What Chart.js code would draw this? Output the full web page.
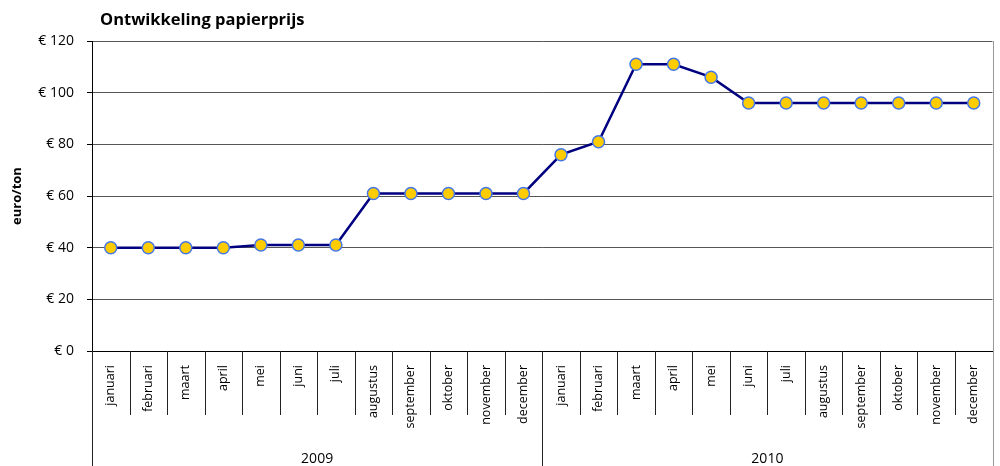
<!DOCTYPE html>
<html>
<head>
<meta charset="utf-8">
<script src="https://cdn.jsdelivr.net/npm/chart.js@4/dist/chart.umd.min.js"></script>
<style>
  html, body { margin: 0; padding: 0; background: #fff; }
  #wrap { width: 1000px; height: 466px; position: relative; }
</style>
</head>
<body>
<div id="wrap"><canvas id="priceChart"></canvas></div>
<script>
const months = ["januari", "februari", "maart", "april", "mei", "juni",
    "juli", "augustus", "september", "oktober", "november", "december"];
const years = ["2009", "2010"];
const labels = months.concat(months);
const prices = [40, 40, 40, 40, 41, 41, 41, 61, 61, 61, 61, 61,
    76, 81, 111, 111, 106, 96, 96, 96, 96, 96, 96, 96];
const yTicks = [0, 20, 40, 60, 80, 100, 120];

const fontFamily = '"Open Sans", Lato, sans-serif';

// draws the title, the category dividers and the year row
const groupAxis = {
    id: 'groupAxis',
    afterDraw(chart) {
        const ctx = chart.ctx;
        const area = chart.chartArea;
        const x = chart.scales.x;
        const step = (area.right - area.left) / labels.length;
        const bottom = chart.height;

        ctx.save();
        ctx.fillStyle = '#000';
        ctx.font = 'bold 16.5px ' + fontFamily;
        ctx.textAlign = 'left';
        ctx.textBaseline = 'middle';
        ctx.fillText('Ontwikkeling papierprijs', 100, 20);

        ctx.lineWidth = 1;
        for (let k = 0; k <= labels.length; k++) {
            const px = Math.round(area.left + k * step) + 0.5;
            const yearEdge = k % months.length === 0;
            ctx.strokeStyle = k === labels.length ? '#999' : '#222';
            ctx.beginPath();
            ctx.moveTo(px, k === labels.length ? area.top : area.bottom);
            ctx.lineTo(px, yearEdge ? bottom : 415);
            ctx.stroke();
        }

        ctx.font = '14px ' + fontFamily;
        ctx.textAlign = 'center';
        years.forEach((yr, i) => {
            const first = x.getPixelForValue(i * months.length);
            const last = x.getPixelForValue((i + 1) * months.length - 1);
            ctx.fillText(yr, (first + last) / 2, 459);
        });
        ctx.restore();
    }
};

document.addEventListener('DOMContentLoaded', () => {
    const ctx = document.getElementById('priceChart').getContext('2d');
    new Chart(ctx, {
        type: 'line',
        data: {
            labels: labels,
            datasets: [{
                label: 'papierprijs',
                data: prices,
                borderColor: '#000080',
                borderWidth: 2.5,
                pointBackgroundColor: '#ffcc00',
                pointBorderColor: '#4677e6',
                pointBorderWidth: 1.5,
                pointRadius: 6,
                tension: 0
            }]
        },
        options: {
            responsive: true,
            maintainAspectRatio: false,
            animation: false,
            layout: { padding: { top: 41, right: 4, left: 0, bottom: 0 } },
            plugins: {
                legend: { display: false },
                tooltip: { enabled: false }
            },
            scales: {
                x: {
                    offset: true,
                    grid: { display: false },
                    border: { display: true, color: '#000', width: 1 },
                    ticks: {
                        color: '#000',
                        font: { family: fontFamily, size: 12.5 },
                        minRotation: 90,
                        maxRotation: 90,
                        padding: 6,
                        autoSkip: false
                    },
                    afterFit(scale) { scale.height = 115; }
                },
                y: {
                    min: 0,
                    max: 120,
                    afterBuildTicks(scale) {
                        scale.ticks = yTicks.map(v => ({ value: v }));
                    },
                    grid: {
                        color: '#555',
                        tickLength: 5,
                        tickColor: '#000'
                    },
                    border: { display: true, color: '#000', width: 1 },
                    ticks: {
                        color: '#000',
                        font: { family: fontFamily, size: 14 },
                        padding: 13,
                        callback: v => '€ ' + v
                    },
                    title: {
                        display: true,
                        text: 'euro/ton',
                        color: '#000',
                        font: { family: fontFamily, size: 13, weight: 'bold' },
                        padding: { top: 9, bottom: 0 }
                    },
                    afterFit(scale) { scale.width = 92; }
                }
            }
        },
        plugins: [groupAxis]
    });
});
</script>
</body>
</html>
